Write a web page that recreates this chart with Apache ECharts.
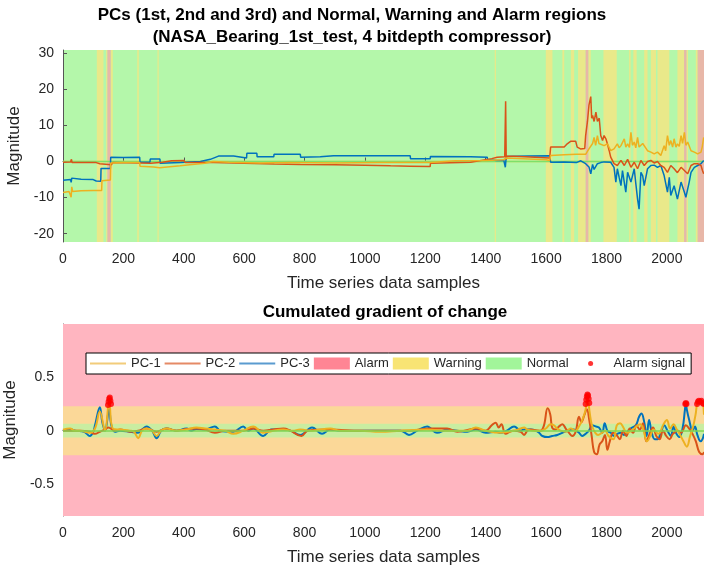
<!DOCTYPE html>
<html>
<head>
<meta charset="utf-8">
<script src="https://cdn.jsdelivr.net/npm/echarts@6.0.0/dist/echarts.min.js"></script>
<style>
  html, body { margin: 0; padding: 0; background: #fff; }
  #chart { width: 704px; height: 569px; }
</style>
</head>
<body>
<div id="chart"></div>
<script>
// ---- data ----
const xTicks = [0, 200, 400, 600, 800, 1000, 1200, 1400, 1600, 1800, 2000];
const topYTicks = [-20, -10, 0, 10, 20, 30];
const botYTicks = [-0.5, 0, 0.5];

// warning / alarm stripes on the PC plot (green = normal elsewhere)
const warnRegions = [[112,134],[143,147],[159,165],[246,251],[313,317],[1430,1434],
  [1599,1621],[1654,1660],[1682,1693],[1706,1731],[1740,1748],[1790,1834],[1875,1880],
  [1889,1900],[1925,1936],[1947,1964],[1969,2008],[2035,2057],[2065,2070],[2096,2102]];
const alarmRegions = [[147,158],[1731,1740],[2057,2065],[2102,2124]];

// limits of the gradient bands
const warnBand = [-0.23, 0.23];
const normBand = [-0.065, 0.065];

// PCs (top)
const pc1 = [[0,-8.6],[20,-8.3],[27,-9.9],[29,-7.0],[32,-8.3],[60,-8.1],[100,-8.0],[128,-8.0],[129,-5.3],[157,-5.1],
  [158,-0.4],[200,-0.3],[254,-0.3],[255,-1.3],[300,-1.5],[320,-1.7],[388,-1.2],[420,-0.9],[470,-0.5],[497,0.0],
  [550,-0.2],[650,-0.4],[750,-0.3],[900,-0.4],[1050,-0.3],[1216,-0.3],[1217,0.1],[1300,0.2],[1400,0.3],[1460,0.5],
  [1466,0.0],[1468,1.0],[1472,0.6],[1600,0.5],[1612,0.3],[1615,1.7],[1660,1.9],[1700,2.0],[1731,2.0],[1742,3.5],
  [1748,3.5],[1754,5.0],[1759,6.7],[1764,4.5],[1770,7.2],[1775,5.0],[1781,5.4],[1792,4.4],[1803,4.9],[1814,3.0],
  [1825,3.5],[1836,4.9],[1842,3.8],[1848,4.4],[1859,6.3],[1864,4.0],[1870,4.9],[1876,3.9],[1881,8.1],[1886,4.5],
  [1892,5.4],[1897,3.8],[1903,6.7],[1908,4.0],[1914,3.9],[1920,5.0],[1925,5.4],[1936,3.0],[1947,2.6],[1958,2.1],
  [1969,2.6],[1980,1.7],[1991,4.4],[1996,3.0],[2002,7.2],[2008,4.5],[2013,5.8],[2019,4.0],[2024,6.3],[2030,4.0],
  [2035,4.9],[2041,4.2],[2047,7.2],[2052,5.0],[2058,8.1],[2063,4.5],[2069,5.4],[2080,3.0],[2091,2.6],[2102,2.1],
  [2113,2.6],[2117,4.0],[2122,6.7]];
const pc2 = [[0,-0.2],[25,-0.1],[28,0.6],[30,-0.3],[110,-0.3],[122,-0.6],[160,-0.9],[165,-0.3],[255,-0.4],[260,-0.6],
  [290,-0.5],[330,-0.2],[360,0.2],[400,0.3],[405,-0.3],[500,-0.3],[600,-0.5],[700,-0.7],[786,-0.8],[900,-0.9],
  [1000,-1.0],[1085,-1.2],[1150,-1.3],[1216,-1.4],[1217,-0.5],[1350,-0.2],[1420,0.8],[1438,1.2],[1463,1.3],[1466,16.7],
  [1468,0.5],[1470,1.5],[1530,1.3],[1531,1.0],[1612,1.0],[1615,4.0],[1660,4.0],[1670,4.9],[1681,5.6],[1698,5.6],
  [1703,4.0],[1714,3.5],[1728,3.6],[1731,7.2],[1737,11.1],[1742,15.6],[1748,18.0],[1751,12.0],[1754,12.8],[1759,11.1],
  [1765,13.7],[1770,11.1],[1776,12.0],[1781,7.2],[1787,5.8],[1792,7.2],[1798,6.3],[1803,4.9],[1809,3.0],[1814,1.2],
  [1825,-0.6],[1836,-1.1],[1848,0.3],[1859,-1.1],[1870,0.6],[1881,-1.6],[1892,-0.2],[1903,-2.0],[1914,0.3],[1925,-1.1],
  [1936,0.0],[1947,0.3],[1958,-0.4],[1969,0.0],[1980,-1.1],[1991,-1.6],[2002,-3.0],[2013,-1.1],[2024,-2.0],[2035,-3.1],
  [2047,-1.6],[2058,-2.5],[2069,-3.4],[2080,-1.1],[2091,-0.6],[2102,-0.6],[2113,-1.1],[2118,-2.5],[2122,-3.4]];
const pc3 = [[0,-5.2],[25,-5.0],[27,-5.8],[29,-4.6],[60,-4.9],[100,-5.0],[110,-5.4],[125,-5.5],[126,-1.9],[157,-1.9],
  [158,1.2],[200,1.1],[254,1.2],[255,-0.2],[288,-0.2],[289,0.7],[321,0.7],[322,-0.5],[390,-0.3],[420,-0.1],
  [455,0.0],[488,0.6],[515,1.5],[565,1.5],[566,1.0],[608,1.0],[609,2.3],[642,2.3],[643,1.3],[698,1.3],
  [699,2.0],[786,2.0],[787,1.2],[852,1.3],[896,1.6],[1150,1.6],[1151,0.75],[1216,0.75],[1217,1.4],[1350,1.3],
  [1405,1.2],[1406,0.55],[1437,0.3],[1460,0.3],[1465,-1.6],[1468,1.4],[1540,1.5],[1612,1.6],[1615,-0.2],[1660,-0.1],
  [1700,-0.3],[1715,0.2],[1731,-0.6],[1742,-1.5],[1748,-3.4],[1754,-0.8],[1759,-2.2],[1770,-0.6],[1781,-0.3],[1792,-0.1],
  [1814,-0.2],[1825,-1.6],[1831,-5.7],[1836,-2.0],[1842,-4.4],[1848,-6.7],[1853,-2.5],[1859,-2.0],[1864,-8.5],[1870,-3.0],
  [1881,-5.7],[1892,-2.0],[1897,-6.0],[1903,-10.4],[1908,-13.2],[1914,-3.0],[1920,-4.0],[1925,-6.7],[1936,-2.0],[1947,-1.1],
  [1958,-1.0],[1969,-1.6],[1980,-1.1],[1991,-3.9],[2002,-8.5],[2008,-4.4],[2013,-9.4],[2024,-6.7],[2035,-10.4],[2047,-5.7],
  [2058,-8.5],[2063,-9.9],[2069,-10.4],[2074,-5.7],[2080,-3.0],[2091,-1.6],[2102,-1.1],[2113,-0.6],[2122,0.3]];

// cumulated gradient (bottom)
const grad1 = [[0,0.01],[23,0.02],[40,0.0],[56,0.0],[89,-0.02],[106,0.02],[122,0.18],[139,0.0],[153,0.28],[165,0.02],
  [189,0.01],[222,0.0],[235,-0.01],[249,-0.07],[262,0.0],[277,0.02],[295,0.0],[310,-0.05],[325,0.0],[343,0.02],
  [376,0.0],[409,0.01],[442,0.03],[470,0.02],[503,0.01],[537,0.0],[564,-0.03],[597,0.0],[630,0.04],[663,-0.02],
  [696,0.0],[730,0.01],[760,0.0],[786,0.01],[825,0.0],[885,0.02],[918,0.0],[985,0.0],[1050,-0.01],[1118,0.0],
  [1206,0.01],[1272,0.0],[1339,0.0],[1367,0.03],[1400,0.0],[1449,-0.02],[1494,0.0],[1516,0.02],[1527,0.03],[1538,0.01],
  [1560,0.0],[1582,0.0],[1599,0.02],[1615,0.06],[1626,0.05],[1637,0.02],[1648,0.0],[1665,-0.01],[1681,0.02],[1698,0.0],
  [1709,0.04],[1720,0.1],[1731,0.2],[1737,0.34],[1743,0.2],[1748,0.1],[1754,0.03],[1763,-0.02],[1772,-0.04],[1785,-0.02],
  [1796,0.0],[1807,-0.05],[1823,-0.08],[1834,0.05],[1845,0.07],[1856,0.03],[1867,-0.02],[1878,-0.01],[1895,0.03],[1912,0.06],
  [1923,0.0],[1934,-0.1],[1945,-0.05],[1956,0.01],[1972,-0.03],[1989,0.06],[2000,0.1],[2011,0.02],[2022,0.06],[2033,0.01],
  [2044,-0.04],[2055,-0.1],[2066,-0.15],[2077,-0.05],[2088,0.05],[2095,0.15],[2104,0.27],[2115,0.27],[2123,0.15]];
const grad2 = [[0,0.0],[56,0.0],[89,-0.01],[106,-0.03],[122,-0.01],[139,0.01],[150,0.03],[172,0.0],[189,0.01],[222,-0.01],
  [249,0.0],[277,0.02],[310,-0.01],[343,0.02],[376,0.0],[409,0.015],[442,0.02],[470,0.01],[503,-0.02],[537,0.0],
  [597,0.0],[630,0.02],[663,0.0],[696,0.01],[730,0.02],[753,0.0],[790,-0.05],[810,0.0],[885,0.01],[985,0.0],
  [1085,0.0],[1150,0.0],[1216,0.02],[1272,0.02],[1306,-0.01],[1367,0.02],[1400,0.0],[1420,0.05],[1433,0.075],[1443,0.03],
  [1452,0.06],[1466,-0.03],[1490,0.0],[1516,-0.01],[1527,-0.04],[1538,0.0],[1549,0.01],[1566,0.005],[1582,0.0],[1593,0.05],
  [1605,0.21],[1614,0.15],[1620,0.03],[1631,0.01],[1643,0.04],[1654,0.06],[1665,0.02],[1676,-0.02],[1687,-0.05],[1698,-0.01],
  [1709,0.13],[1717,0.08],[1726,0.14],[1735,0.2],[1743,0.1],[1751,-0.05],[1759,-0.2],[1768,-0.22],[1777,-0.13],[1786,-0.1],
  [1795,-0.04],[1803,-0.18],[1811,-0.1],[1822,-0.02],[1833,-0.04],[1844,-0.08],[1855,0.0],[1866,-0.05],[1877,0.02],[1888,-0.02],
  [1899,0.05],[1910,0.01],[1921,0.07],[1932,-0.1],[1943,-0.03],[1954,0.03],[1965,-0.05],[1976,-0.08],[1987,0.0],[1998,-0.05],
  [2009,-0.08],[2020,-0.03],[2036,0.0],[2047,-0.02],[2063,0.05],[2074,0.02],[2085,-0.03],[2096,-0.1],[2107,-0.2],[2118,-0.22],
  [2123,-0.2]];
const grad3 = [[0,0.0],[23,0.015],[40,0.0],[70,-0.01],[89,-0.05],[100,-0.01],[106,0.05],[122,0.22],[130,0.08],[139,0.0],
  [153,0.2],[160,0.05],[172,-0.01],[189,0.0],[222,-0.01],[249,-0.02],[262,0.01],[277,0.04],[295,0.0],[310,-0.07],
  [325,0.0],[343,0.02],[376,0.0],[409,0.02],[425,0.0],[442,0.015],[470,0.01],[503,0.04],[520,0.0],[564,-0.01],
  [597,0.04],[613,0.0],[630,0.02],[663,-0.05],[690,0.01],[730,0.01],[753,0.0],[786,-0.04],[825,0.03],[858,-0.03],
  [885,0.01],[918,0.0],[1050,0.0],[1118,0.0],[1146,-0.04],[1173,0.0],[1206,0.04],[1239,-0.02],[1272,0.01],[1306,0.0],
  [1339,-0.01],[1367,0.01],[1400,-0.02],[1433,-0.01],[1449,-0.02],[1470,0.0],[1494,0.04],[1516,0.0],[1527,0.01],[1549,0.01],
  [1566,0.0],[1577,-0.02],[1588,-0.05],[1605,-0.06],[1620,-0.05],[1637,-0.04],[1654,-0.02],[1671,0.0],[1692,0.01],[1709,-0.02],
  [1720,-0.05],[1731,-0.03],[1742,0.0],[1753,0.05],[1764,0.04],[1775,0.03],[1786,-0.02],[1794,0.07],[1803,0.0],[1814,-0.02],
  [1825,-0.05],[1836,-0.03],[1847,-0.02],[1858,-0.04],[1869,-0.01],[1880,0.02],[1897,0.05],[1908,0.13],[1916,0.16],[1925,0.08],
  [1933,-0.05],[1941,0.1],[1950,-0.02],[1960,-0.08],[1969,-0.08],[1980,-0.02],[1991,0.05],[2002,0.0],[2013,-0.05],[2022,0.04],
  [2030,-0.02],[2041,-0.06],[2052,0.02],[2060,0.2],[2063,0.26],[2066,0.2],[2074,0.1],[2085,0.0],[2093,0.04],[2101,-0.04],
  [2112,-0.1],[2118,-0.08],[2123,-0.03]];
const alarmSignal = [[149,0.24],[151,0.27],[153,0.3],[155,0.31],[157,0.28],[159,0.25],
  [1731,0.25],[1733,0.29],[1735,0.32],[1737,0.34],[1739,0.33],[1741,0.3],[1743,0.26],
  [2061,0.25],[2063,0.26],[2065,0.25],
  [2100,0.25],[2103,0.27],[2106,0.28],[2110,0.27],[2114,0.28],[2118,0.26],[2122,0.25]];

// ---- styling ----
const FONT = "'Liberation Sans', Arial, Helvetica, sans-serif";
const TXT = '#262626';
const C1 = '#EDB120', C2 = '#D95319', C3 = '#0072BD';
const GREEN_BG = '#B4F7AA', YELLOW_BG = '#E9E98A', RED_BG = '#E8B7A8';
const LINE_ICON = 'path://M0,0M36,12M0,5.1h36v1.8h-36z';
const DOT_ICON = 'path://M0,0M36,12M15.5,6a2.5,2.5 0 1,0 5,0a2.5,2.5 0 1,0 -5,0z';

var chart = echarts.init(document.getElementById('chart'));

function xAxisCfg(gridIndex) {
  return {
    gridIndex: gridIndex, type: 'value', min: 0, max: 2123, interval: 200,
    name: 'Time series data samples', nameLocation: 'middle', nameGap: 33,
    nameTextStyle: { fontFamily: FONT, fontSize: 17, color: TXT },
    axisLine: { lineStyle: { color: '#555', width: 1 } },
    axisTick: { inside: true, length: 4, lineStyle: { color: '#555' } },
    axisLabel: { fontFamily: FONT, fontSize: 14, color: TXT, margin: 10, showMaxLabel: false,
      formatter: (v) => String(v) },
    splitLine: { show: false }
  };
}
function yAxisCfg(gridIndex, min, max, ticks) {
  return {
    gridIndex: gridIndex, type: 'value', min: min, max: max,
    name: 'Magnitude', nameLocation: 'middle', nameGap: 36,
    nameTextStyle: { fontFamily: FONT, fontSize: 17, color: TXT },
    axisLine: { show: true, lineStyle: { color: '#555', width: 1 } },
    axisTick: { show: true, inside: true, length: 4, customValues: ticks, lineStyle: { color: '#555' } },
    axisLabel: { fontFamily: FONT, fontSize: 14, color: TXT, margin: 9, customValues: ticks },
    splitLine: { show: false }
  };
}

function stripes(list, color) {
  return list.map(r => [{ xAxis: r[0], itemStyle: { color: color } }, { xAxis: r[1] }]);
}

const lineStyleTop = (c) => ({ type: 'line', xAxisIndex: 0, yAxisIndex: 0, symbol: 'none',
  lineStyle: { color: c, width: 1.5 }, itemStyle: { color: c }, animation: false, z: 3 });
const lineStyleBot = (c) => ({ type: 'line', xAxisIndex: 1, yAxisIndex: 1, symbol: 'none', smooth: 0.4,
  lineStyle: { color: c, width: 2 }, itemStyle: { color: c }, animation: false, z: 3 });

let option = {
  animation: false,
  backgroundColor: '#fff',
  title: [
    { text: 'PCs (1st, 2nd and 3rd) and Normal, Warning and Alarm regions\n(NASA_Bearing_1st_test, 4 bitdepth compressor)',
      left: 352, top: 4, padding: 0, textAlign: 'center',
      textStyle: { fontFamily: FONT, fontSize: 17, fontWeight: 'bold', color: '#000', lineHeight: 22 } },
    { text: 'Cumulated gradient of change', left: 385, top: 302, padding: 0, textAlign: 'center',
      textStyle: { fontFamily: FONT, fontSize: 17, fontWeight: 'bold', color: '#000', lineHeight: 20 } }
  ],
  grid: [
    { left: 63, right: 0, top: 50, height: 192, show: true, backgroundColor: GREEN_BG, borderWidth: 0,
      outerBoundsMode: 'none' },
    { left: 63, right: 0, top: 324, height: 192, outerBoundsMode: 'none' }
  ],
  xAxis: [xAxisCfg(0), xAxisCfg(1)],
  yAxis: [yAxisCfg(0, -22.3, 30.9, topYTicks), yAxisCfg(1, -0.8, 1.0, botYTicks)],
  legend: {
    left: 86, top: 353, width: 640, orient: 'horizontal',
    backgroundColor: '#fff', borderColor: '#000', borderWidth: 1, borderRadius: 0,
    padding: [4, 6, 4, 4], itemGap: 4, itemWidth: 36, itemHeight: 12,
    textStyle: { fontFamily: FONT, fontSize: 13, color: TXT },
    data: [
      { name: 'PC-1', icon: LINE_ICON, itemStyle: { color: '#F2CC7A' } },
      { name: 'PC-2', icon: LINE_ICON, itemStyle: { color: '#E58A66' } },
      { name: 'PC-3', icon: LINE_ICON, itemStyle: { color: '#5A9BD0' } },
      { name: 'Alarm', icon: 'rect', itemStyle: { color: '#FF8594' } },
      { name: 'Warning', icon: 'rect', itemStyle: { color: '#F8E474' } },
      { name: 'Normal', icon: 'rect', itemStyle: { color: '#A2F59A' } },
      { name: 'Alarm signal', icon: DOT_ICON, itemStyle: { color: '#FF0000' } }
    ]
  },
  series: [
    // top: region stripes
    { type: 'line', name: 'regions', xAxisIndex: 0, yAxisIndex: 0, data: [], silent: true, z: 1,
      markArea: { silent: true, data: stripes(warnRegions, YELLOW_BG).concat(stripes(alarmRegions, RED_BG)) } },
    { type: 'line', name: 'bands-top', xAxisIndex: 0, yAxisIndex: 0, data: [], silent: true, z: 2,
      markArea: { silent: true, data: [
        [{ yAxis: warnBand[0], itemStyle: { color: '#F0E060' } }, { yAxis: warnBand[1] }],
        [{ yAxis: normBand[0] - 0.15, itemStyle: { color: '#7EE06A' } }, { yAxis: normBand[1] + 0.15 }]
      ] } },
    Object.assign(lineStyleTop(C3), { name: 'PC-3 top', data: pc3 }),
    Object.assign(lineStyleTop(C2), { name: 'PC-2 top', data: pc2 }),
    Object.assign(lineStyleTop(C1), { name: 'PC-1 top', data: pc1 }),

    // bottom: bands
    { type: 'line', name: 'Alarm', xAxisIndex: 1, yAxisIndex: 1, data: [], symbol: 'none', z: 1,
      itemStyle: { color: '#FF8594' }, lineStyle: { color: '#FF8594' },
      markArea: { silent: true, data: [[{ yAxis: -0.8, itemStyle: { color: '#FFB5C0' } }, { yAxis: 1.0 }]] } },
    { type: 'line', name: 'Warning', xAxisIndex: 1, yAxisIndex: 1, data: [], symbol: 'none', z: 1,
      itemStyle: { color: '#F8E474' }, lineStyle: { color: '#F8E474' },
      markArea: { silent: true, data: [[{ yAxis: warnBand[0], itemStyle: { color: '#FBD898' } }, { yAxis: warnBand[1] }]] } },
    { type: 'line', name: 'Normal', xAxisIndex: 1, yAxisIndex: 1, data: [], symbol: 'none', z: 2,
      itemStyle: { color: '#A2F59A' }, lineStyle: { color: '#A2F59A' },
      markArea: { silent: true, data: [[{ yAxis: normBand[0], itemStyle: { color: '#C9EDA1' } }, { yAxis: normBand[1] }]] },
      markLine: { silent: true, symbol: 'none', label: { show: false },
        lineStyle: { color: '#7ED654', width: 1.5, type: 'solid' }, data: [{ yAxis: 0 }] } },
    Object.assign(lineStyleBot(C3), { name: 'PC-3', data: grad3 }),
    Object.assign(lineStyleBot(C2), { name: 'PC-2', data: grad2 }),
    Object.assign(lineStyleBot(C1), { name: 'PC-1', data: grad1 }),
    { type: 'scatter', name: 'Alarm signal', xAxisIndex: 1, yAxisIndex: 1, data: alarmSignal,
      symbol: 'circle', symbolSize: 6, itemStyle: { color: '#FF0000' }, z: 4 }
  ]
};

chart.setOption(option);
</script>
</body>
</html>
